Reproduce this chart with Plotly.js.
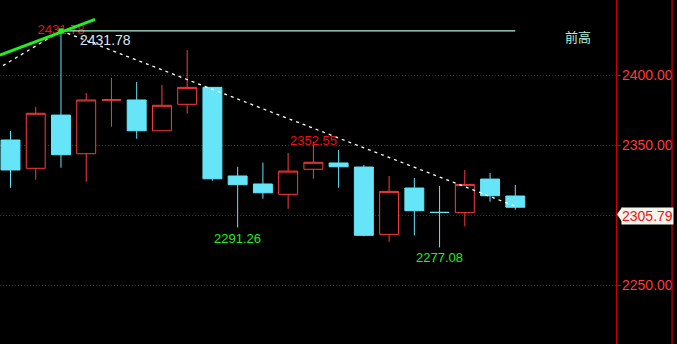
<!DOCTYPE html>
<html>
<head>
<meta charset="utf-8">
<script src="https://cdn.plot.ly/plotly-3.0.1.min.js"></script>
<style>html,body{margin:0;padding:0;background:#000;}#chart{width:677px;height:344px;}</style>
</head>
<body>
<div id="chart"></div>
<script>
// ---- data ----
const idx   = [0,1,2,3,4,5,6,7,8,9,10,11,12,13,14,15,16,17,18,19,20];
const open  = [2353.8,2333.6,2371.6,2344.0,2382.3,2382.4,2360.4,2379.3,2391.4,2328.1,2322.4,2315.0,2332.9,2337.4,2334.5,2286.4,2319.5,2302.2,2301.9,2325.9,2313.8];
const high  = [2360.2,2377.4,2431.78,2387.4,2398.1,2395.2,2393.1,2418.1,2391.6,2334.7,2337.6,2344.5,2352.55,2346.6,2335.9,2328.1,2326.6,2320.9,2332.4,2330.2,2321.6];
const low   = [2319.7,2325.4,2334.0,2324.0,2363.3,2354.7,2360.4,2372.6,2324.7,2291.26,2311.9,2304.7,2326.1,2319.7,2285.0,2281.1,2285.7,2277.08,2292.1,2309.7,2304.0];
const close = [2332.4,2372.9,2343.3,2382.4,2382.5,2360.4,2378.6,2391.4,2326.1,2321.9,2316.1,2331.6,2337.9,2334.7,2285.7,2317.1,2303.3,2302.0,2322.1,2314.0,2305.79];

const upTrendX = [-0.3, 2],  upTrendY = [2406.9, 2431.78];
const downTrendX = [2, 20],  downTrendY = [2431.78, 2306.5];
const greenX = [-0.42, 3.35], greenY = [2414.5, 2440.0];
const prevHighX = [2, 20],   prevHighY = [2431.78, 2431.78];
const prevHighLabel = '前高';
const highLabel = '2431.78';
const lastPrice = 2305.79;
const yTicks = [2250, 2300, 2350, 2400];

const RED = '#ff3b3b', CYAN = '#66e4f8', FONT = 'Liberation Sans, Arial, sans-serif';

const traces = [
  {type:'candlestick', x:idx, open:open, high:high, low:low, close:close,
   increasing:{line:{color:RED,width:1}, fillcolor:'#000000'},
   decreasing:{line:{color:CYAN,width:1}, fillcolor:CYAN},
   whiskerwidth:0, hoverinfo:'skip', showlegend:false},
  {type:'scatter', mode:'text', x:[2], y:[high[2]], text:[highLabel],
   textfont:{color:'#ee1111', size:13, family:FONT}, textposition:'middle center', hoverinfo:'skip'},
  {type:'scatter', mode:'lines', x:prevHighX, y:prevHighY, line:{color:'#aef2d6', width:1.2}, hoverinfo:'skip'},
  {type:'scatter', mode:'lines', x:upTrendX, y:upTrendY, line:{color:'#ffffff', width:1.3, dash:'3px,4px'}, hoverinfo:'skip'},
  {type:'scatter', mode:'lines', x:downTrendX, y:downTrendY, line:{color:'#ffffff', width:1.3, dash:'3px,4px'}, hoverinfo:'skip'},
  {type:'scatter', mode:'lines', x:greenX, y:greenY, line:{color:'#22ee22', width:3}, hoverinfo:'skip'},
  {type:'scatter', mode:'markers', x:[2], y:[high[2]], marker:{color:'#22ee22', size:5, symbol:'square'}, hoverinfo:'skip'}
];

const layout = {
  width:677, height:344,
  margin:{l:0, r:61, t:0, b:0},
  paper_bgcolor:'#000000', plot_bgcolor:'#000000',
  showlegend:false,
  boxgap:0.25, boxgroupgap:0,
  xaxis:{range:[-0.416, 23.99], visible:false, rangeslider:{visible:false}, fixedrange:true},
  yaxis:{side:'right', range:[2208.1, 2453.8], tickvals:yTicks, tickformat:'.2f',
         showgrid:true, gridcolor:'#b00000', griddash:'1px,2px', gridwidth:1,
         showline:true, linecolor:'#cc0000', linewidth:1.2,
         ticks:'outside', ticklen:4, tickcolor:'#cc0000', ticklabelstandoff:-2,
         tickfont:{color:RED, size:14, family:FONT}, zeroline:false, fixedrange:true},
  annotations:[
    {x:2, y:prevHighY[0], xref:'x', yref:'y', text:highLabel, showarrow:false, xanchor:'left', yanchor:'top',
     xshift:17, yshift:1, font:{color:'#dfe5f5', size:14, family:FONT}},
    {x:12, y:high[12], xref:'x', yref:'y', text:String(high[12].toFixed(2)), showarrow:false, xanchor:'center', yanchor:'middle',
     yshift:1, font:{color:'#ee1111', size:13, family:FONT}},
    {x:9, y:low[9], xref:'x', yref:'y', text:low[9].toFixed(2), showarrow:false, xanchor:'center', yanchor:'top',
     yshift:-1, font:{color:'#22ee22', size:13, family:FONT}},
    {x:17, y:low[17], xref:'x', yref:'y', text:low[17].toFixed(2), showarrow:false, xanchor:'center', yanchor:'top',
     yshift:-1, font:{color:'#22ee22', size:13, family:FONT}},
    {x:22.48, y:prevHighY[0], xref:'x', yref:'y', text:prevHighLabel, showarrow:false, xanchor:'center', yanchor:'middle',
     yshift:-6, font:{color:'#aef2d6', size:13, family:'Noto Sans CJK SC'}},
    {x:1, y:lastPrice, xref:'paper', yref:'y', text:lastPrice.toFixed(2), showarrow:false, xanchor:'left', yanchor:'top',
     xshift:5, yshift:0, bgcolor:'#f4f4ec', borderpad:0, font:{color:'#ee1111', size:14, family:FONT}}
  ],
  shapes:[
    {type:'line', xref:'paper', yref:'paper', x0:1.091, x1:1.091, y0:0, y1:1, line:{color:'#cc0000', width:1.2}},
    {type:'path', xref:'paper', yref:'y', path:'M 1.0100,2305.79 L 1.0016,2300.7 L 1.0100,2295.3 Z',
     fillcolor:'#f4f4ec', line:{width:0}}
  ]
};

Plotly.newPlot('chart', traces, layout, {staticPlot:true, displayModeBar:false});
</script>
</body>
</html>
